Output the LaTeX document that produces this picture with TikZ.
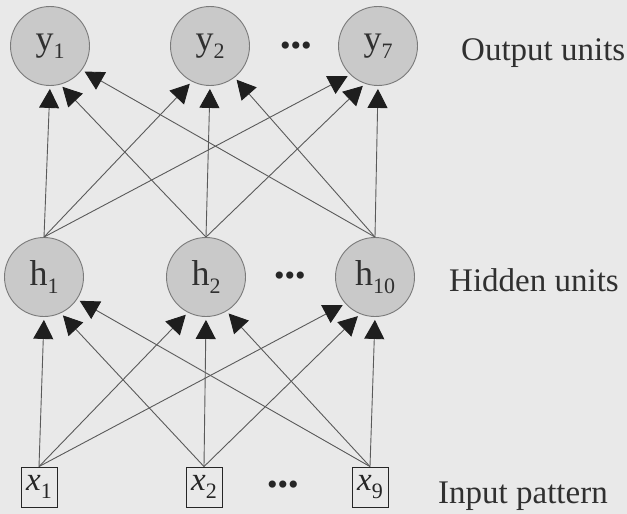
\documentclass[tikz,border=0pt]{standalone}
\usepackage{fontspec}
\setmainfont{Liberation Serif}
\usetikzlibrary{arrows.meta}
\definecolor{bgc}{HTML}{E9E9E9}
\definecolor{unitfill}{HTML}{C9C9C9}
\definecolor{unitline}{HTML}{7A7A7A}
\definecolor{edgec}{HTML}{5A5A5A}
\definecolor{tipc}{HTML}{1E1E1E}
\definecolor{txtc}{HTML}{303030}
\newcommand\subsc[1]{\raisebox{-0.22em}{\fontsize{22}{22}\selectfont #1}}
\begin{document}
\begin{tikzpicture}[x=1pt,y=-1pt,
  unit/.style={circle, draw=unitline, line width=0.9pt, fill=unitfill, minimum size=79pt, inner sep=0pt, text=txtc, font=\fontsize{36}{36}\selectfont},
  inbox/.style={draw=black!85, line width=0.9pt, minimum width=36pt, minimum height=40pt, inner sep=0pt, text=black!85, font=\fontsize{33}{33}\selectfont},
  conn/.style={draw=edgec, line width=0.9pt, -{Triangle[length=19pt,width=20pt,color=tipc]}, shorten >=3pt},
  lbl/.style={anchor=base west, inner sep=0pt, text=txtc, font=\fontsize{33}{33}\selectfont},
  dotsl/.style={inner sep=0pt, text=black!85, font=\fontsize{30}{30}\selectfont}
]
\fill[bgc] (0,0) rectangle (627,514);
\useasboundingbox (0,0) rectangle (627,514);

% output units
\node[unit] (y1) at (50,46) {y\subsc{1}};
\node[unit] (y2) at (210,46) {y\subsc{2}};
\node[unit] (y7) at (378,46) {y\subsc{7}};
% hidden units
\node[unit] (h1) at (44,277) {h\subsc{1}};
\node[unit] (h2) at (206,277) {h\subsc{2}};
\node[unit] (h10) at (375,277) {h\subsc{10}};
% inputs
\node[inbox] (x1) at (39,487) {\textit{x}\subsc{1}};
\node[inbox] (x2) at (204,487) {\textit{x}\subsc{2}};
\node[inbox] (x9) at (370,487) {\textit{x}\subsc{9}};

% dots
\node[dotsl] (d1) at (296,49) {•••};
\node[dotsl] (d2) at (290,279) {•••};
\node[dotsl] (d3) at (283,488) {•••};

% labels
\node[lbl] (lo) at (461,60) {Output units};
\node[lbl] (lh) at (449,291) {Hidden units};
\node[lbl] (li) at (438,503) {Input pattern};

% input -> hidden
\draw[conn] (x1.north) -- (h1.-90);
\draw[conn] (x2.north) -- (h1.-65);
\draw[conn] (x9.north) -- (h1.-34);
\draw[conn] (x1.north) -- (h2.-117);
\draw[conn] (x2.north) -- (h2.-90);
\draw[conn] (x9.north) -- (h2.-59);
\draw[conn] (x1.north) -- (h10.-138);
\draw[conn] (x2.north) -- (h10.-112);
\draw[conn] (x9.north) -- (h10.-90);

% hidden -> output
\draw[conn] (h1.north) -- (y1.-90);
\draw[conn] (h2.north) -- (y1.-75);
\draw[conn] (h10.north) -- (y1.-37);
\draw[conn] (h1.north) -- (y2.-117);
\draw[conn] (h2.north) -- (y2.-90);
\draw[conn] (h10.north) -- (y2.-52);
\draw[conn] (h1.north) -- (y7.-134);
\draw[conn] (h2.north) -- (y7.-109);
\draw[conn] (h10.north) -- (y7.-90);
\end{tikzpicture}
\end{document}
